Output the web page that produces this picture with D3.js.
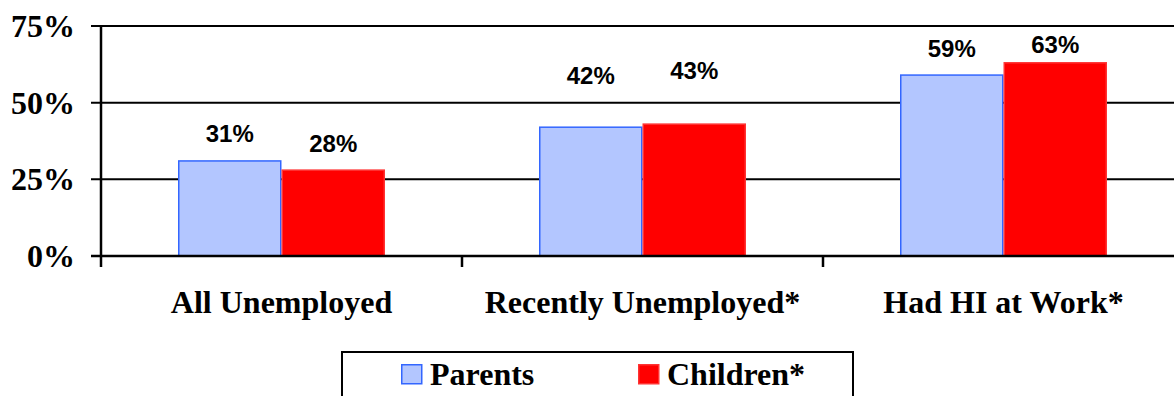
<!DOCTYPE html>
<html>
<head>
<meta charset="utf-8">
<script src="https://cdn.jsdelivr.net/npm/d3@7"></script>
<style>
  body { margin: 0; background: #fff; }
  svg { display: block; }
</style>
</head>
<body>
<svg id="chart" width="1174" height="396"></svg>
<script>
const categories = ["All Unemployed", "Recently Unemployed*", "Had HI at Work*"];
const series = ["Parents", "Children*"];
const parents = [31, 42, 59];
const children = [28, 43, 63];
const yTicks = [0, 25, 50, 75];

// label offsets above bars (px), as placed in the original
const labelGap = [[19, 18], [43, 45], [18, 10]];

const fills = ["#b3c6ff", "#ff0000"];
const strokes = ["#3366ff", "#ff3333"];

const svg = d3.select("#chart");
const plotLeft = 101, plotRight = 1184, plotTop = 26, plotBottom = 256;
const serif = "'Liberation Serif', 'Times New Roman', serif";

const x0 = d3.scaleBand()
  .domain(categories)
  .range([plotLeft, plotRight]);

const x1 = d3.scaleBand()
  .domain(series)
  .range([0, x0.bandwidth()])
  .paddingOuter(0.744);

const y = d3.scaleLinear()
  .domain([0, 75])
  .range([plotBottom, plotTop]);

// gridlines
svg.append("g")
  .selectAll("line")
  .data(yTicks)
  .enter()
  .append("line")
  .attr("x1", plotLeft - 10)
  .attr("x2", 1174)
  .attr("y1", d => y(d))
  .attr("y2", d => y(d))
  .attr("stroke", "#000")
  .attr("stroke-width", 2);

// y labels
svg.append("g")
  .selectAll("text")
  .data(yTicks)
  .enter()
  .append("text")
  .attr("x", 75)
  .attr("y", d => y(d) + 11)
  .attr("text-anchor", "end")
  .attr("font-family", serif)
  .attr("font-weight", "bold")
  .attr("font-size", "32px")
  .text(d => d + "%");

const rows = categories.map((c, i) => ({ cat: c, i, vals: [parents[i], children[i]] }));

const groups = svg.append("g")
  .selectAll("g")
  .data(rows)
  .enter()
  .append("g")
  .attr("transform", d => `translate(${x0(d.cat)},0)`);

groups.selectAll("rect")
  .data(d => d.vals.map((v, j) => ({ s: series[j], v, j, i: d.i })))
  .enter()
  .append("rect")
  .attr("x", d => x1(d.s) + 0.75)
  .attr("y", d => y(d.v))
  .attr("width", x1.bandwidth() - 1.5)
  .attr("height", d => y(0) - y(d.v))
  .attr("fill", d => fills[d.j])
  .attr("stroke", d => strokes[d.j])
  .attr("stroke-width", 1.5);

groups.selectAll("text")
  .data(d => d.vals.map((v, j) => ({ s: series[j], v, j, i: d.i })))
  .enter()
  .append("text")
  .attr("x", d => x1(d.s) + x1.bandwidth() / 2)
  .attr("y", d => y(d.v) - labelGap[d.i][d.j])
  .attr("text-anchor", "middle")
  .attr("font-family", "'Liberation Sans', Arial, sans-serif")
  .attr("font-weight", "bold")
  .attr("font-size", "24px")
  .text(d => d.v + "%");

// axes lines
svg.append("line")
  .attr("x1", plotLeft).attr("x2", plotLeft)
  .attr("y1", plotTop).attr("y2", plotBottom + 11)
  .attr("stroke", "#000").attr("stroke-width", 2.5);

svg.append("line")
  .attr("x1", plotLeft - 10).attr("x2", 1174)
  .attr("y1", plotBottom).attr("y2", plotBottom)
  .attr("stroke", "#000").attr("stroke-width", 2.5);

// x ticks at category boundaries
svg.append("g")
  .selectAll("line")
  .data(categories)
  .enter()
  .append("line")
  .attr("x1", d => x0(d) + x0.bandwidth())
  .attr("x2", d => x0(d) + x0.bandwidth())
  .attr("y1", plotBottom)
  .attr("y2", plotBottom + 11)
  .attr("stroke", "#000")
  .attr("stroke-width", 2.5);

// category labels
svg.append("g")
  .selectAll("text")
  .data(categories)
  .enter()
  .append("text")
  .attr("x", d => x0(d) + x0.bandwidth() / 2)
  .attr("y", 313)
  .attr("text-anchor", "middle")
  .attr("font-family", serif)
  .attr("font-weight", "bold")
  .attr("font-size", "32px")
  .text(d => d);

// legend
svg.append("rect")
  .attr("x", 342).attr("y", 352)
  .attr("width", 511).attr("height", 60)
  .attr("fill", "#fff")
  .attr("stroke", "#000")
  .attr("stroke-width", 2);

const legendX = [401, 638];
const leg = svg.append("g")
  .selectAll("g")
  .data(series)
  .enter()
  .append("g")
  .attr("transform", (d, i) => `translate(${legendX[i]},364)`);

leg.append("rect")
  .attr("x", 0.75).attr("y", 0.75)
  .attr("width", 20).attr("height", 19)
  .attr("fill", (d, i) => fills[i])
  .attr("stroke", (d, i) => strokes[i])
  .attr("stroke-width", 1.5);

leg.append("text")
  .attr("x", 29)
  .attr("y", 21)
  .attr("font-family", serif)
  .attr("font-weight", "bold")
  .attr("font-size", "32px")
  .text(d => d);
</script>
</body>
</html>
